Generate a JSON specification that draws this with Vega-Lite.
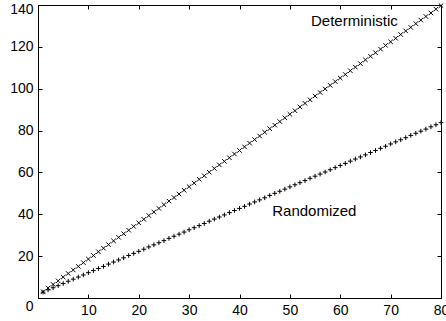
{
  "$schema": "https://vega.github.io/schema/vega-lite/v6.json",
  "width": 403,
  "height": 293,
  "autosize": "none",
  "padding": {"left": 38, "top": 5, "right": 5, "bottom": 23},
  "background": "white",
  "config": {
    "view": {"stroke": "black", "strokeWidth": 1},
    "font": "Liberation Sans",
    "axis": {
      "grid": false,
      "domainColor": "black",
      "domainWidth": 1,
      "tickColor": "black",
      "tickWidth": 1,
      "tickSize": -4,
      "labelColor": "black",
      "labelFont": "Liberation Sans",
      "labelFontSize": 14,
      "labelOverlap": false,
      "labelFlush": false,
      "labelBound": false,
      "title": null
    }
  },
  "datasets": {
    "series": [
      {"n": 1, "det": 3.0, "rnd": 2.8}, {"n": 2, "det": 4.8, "rnd": 3.9}, {"n": 3, "det": 6.5, "rnd": 4.9}, {"n": 4, "det": 8.2, "rnd": 5.9},
      {"n": 5, "det": 10.0, "rnd": 6.9}, {"n": 6, "det": 11.7, "rnd": 8.0}, {"n": 7, "det": 13.4, "rnd": 9.0}, {"n": 8, "det": 15.1, "rnd": 10.0},
      {"n": 9, "det": 16.9, "rnd": 11.0}, {"n": 10, "det": 18.6, "rnd": 12.1}, {"n": 11, "det": 20.3, "rnd": 13.1}, {"n": 12, "det": 22.1, "rnd": 14.1},
      {"n": 13, "det": 23.8, "rnd": 15.1}, {"n": 14, "det": 25.5, "rnd": 16.2}, {"n": 15, "det": 27.3, "rnd": 17.2}, {"n": 16, "det": 29.0, "rnd": 18.2},
      {"n": 17, "det": 30.7, "rnd": 19.2}, {"n": 18, "det": 32.4, "rnd": 20.3}, {"n": 19, "det": 34.2, "rnd": 21.3}, {"n": 20, "det": 35.9, "rnd": 22.3},
      {"n": 21, "det": 37.6, "rnd": 23.3}, {"n": 22, "det": 39.4, "rnd": 24.4}, {"n": 23, "det": 41.1, "rnd": 25.4}, {"n": 24, "det": 42.8, "rnd": 26.4},
      {"n": 25, "det": 44.6, "rnd": 27.4}, {"n": 26, "det": 46.3, "rnd": 28.5}, {"n": 27, "det": 48.0, "rnd": 29.5}, {"n": 28, "det": 49.7, "rnd": 30.5},
      {"n": 29, "det": 51.5, "rnd": 31.5}, {"n": 30, "det": 53.2, "rnd": 32.6}, {"n": 31, "det": 54.9, "rnd": 33.6}, {"n": 32, "det": 56.7, "rnd": 34.6},
      {"n": 33, "det": 58.4, "rnd": 35.6}, {"n": 34, "det": 60.1, "rnd": 36.7}, {"n": 35, "det": 61.9, "rnd": 37.7}, {"n": 36, "det": 63.6, "rnd": 38.7},
      {"n": 37, "det": 65.3, "rnd": 39.7}, {"n": 38, "det": 67.0, "rnd": 40.8}, {"n": 39, "det": 68.8, "rnd": 41.8}, {"n": 40, "det": 70.5, "rnd": 42.8},
      {"n": 41, "det": 72.2, "rnd": 43.8}, {"n": 42, "det": 74.0, "rnd": 44.9}, {"n": 43, "det": 75.7, "rnd": 45.9}, {"n": 44, "det": 77.4, "rnd": 46.9},
      {"n": 45, "det": 79.2, "rnd": 47.9}, {"n": 46, "det": 80.9, "rnd": 49.0}, {"n": 47, "det": 82.6, "rnd": 50.0}, {"n": 48, "det": 84.3, "rnd": 51.0},
      {"n": 49, "det": 86.1, "rnd": 52.0}, {"n": 50, "det": 87.8, "rnd": 53.1}, {"n": 51, "det": 89.5, "rnd": 54.1}, {"n": 52, "det": 91.3, "rnd": 55.1},
      {"n": 53, "det": 93.0, "rnd": 56.1}, {"n": 54, "det": 94.7, "rnd": 57.2}, {"n": 55, "det": 96.5, "rnd": 58.2}, {"n": 56, "det": 98.2, "rnd": 59.2},
      {"n": 57, "det": 99.9, "rnd": 60.2}, {"n": 58, "det": 101.6, "rnd": 61.3}, {"n": 59, "det": 103.4, "rnd": 62.3}, {"n": 60, "det": 105.1, "rnd": 63.3},
      {"n": 61, "det": 106.8, "rnd": 64.3}, {"n": 62, "det": 108.6, "rnd": 65.4}, {"n": 63, "det": 110.3, "rnd": 66.4}, {"n": 64, "det": 112.0, "rnd": 67.4},
      {"n": 65, "det": 113.8, "rnd": 68.4}, {"n": 66, "det": 115.5, "rnd": 69.5}, {"n": 67, "det": 117.2, "rnd": 70.5}, {"n": 68, "det": 118.9, "rnd": 71.5},
      {"n": 69, "det": 120.7, "rnd": 72.5}, {"n": 70, "det": 122.4, "rnd": 73.6}, {"n": 71, "det": 124.1, "rnd": 74.6}, {"n": 72, "det": 125.9, "rnd": 75.6},
      {"n": 73, "det": 127.6, "rnd": 76.6}, {"n": 74, "det": 129.3, "rnd": 77.7}, {"n": 75, "det": 131.1, "rnd": 78.7}, {"n": 76, "det": 132.8, "rnd": 79.7},
      {"n": 77, "det": 134.5, "rnd": 80.7}, {"n": 78, "det": 136.2, "rnd": 81.8}, {"n": 79, "det": 138.0, "rnd": 82.8}, {"n": 80, "det": 139.7, "rnd": 83.8}
    ],
    "labels": [
      {"label": "Deterministic", "lx": 54.2, "ly": 132.5},
      {"label": "Randomized", "lx": 46.5, "ly": 41.6}
    ]
  },
  "data": {"name": "series"},
  "layer": [
    {
      "mark": {"type": "point", "shape": "M-1,-1L1,1M1,-1L-1,1", "size": 20, "filled": false, "stroke": "black", "strokeWidth": 1, "opacity": 1},
      "encoding": {
        "x": {"field": "n", "type": "quantitative", "scale": {"domain": [0, 80], "nice": false, "zero": false},
              "axis": {"orient": "bottom", "values": [0, 10, 20, 30, 40, 50, 60, 70, 80], "labelPadding": 9, "labelExpr": "datum.value === 0 ? '' : datum.label"}},
        "y": {"field": "det", "type": "quantitative", "scale": {"domain": [0, 140], "nice": false},
              "axis": {"orient": "left", "values": [0, 20, 40, 60, 80, 100, 120, 140], "labelPadding": 9,
                       "labelOffset": {"condition": [{"test": "datum.value === 0", "value": 8}, {"test": "datum.value === 140", "value": 4}], "value": 0}}}
      }
    },
    {
      "mark": {"type": "point", "shape": "M-1,0L1,0M0,-1L0,1", "size": 22, "filled": false, "stroke": "black", "strokeWidth": 1, "opacity": 1},
      "encoding": {
        "x": {"field": "n", "type": "quantitative", "scale": {"domain": [0, 80], "nice": false, "zero": false},
              "axis": {"orient": "top", "values": [0, 10, 20, 30, 40, 50, 60, 70, 80], "labels": false}},
        "y": {"field": "rnd", "type": "quantitative", "scale": {"domain": [0, 140], "nice": false},
              "axis": {"orient": "right", "values": [0, 20, 40, 60, 80, 100, 120, 140], "labels": false}}
      }
    },
    {
      "data": {"name": "labels"},
      "mark": {"type": "text", "align": "left", "baseline": "middle", "font": "Liberation Sans", "fontSize": 15, "fill": "black"},
      "encoding": {
        "x": {"field": "lx", "type": "quantitative", "axis": null},
        "y": {"field": "ly", "type": "quantitative", "axis": null},
        "text": {"field": "label"}
      }
    }
  ],
  "resolve": {"axis": {"x": "independent", "y": "independent"}}
}
